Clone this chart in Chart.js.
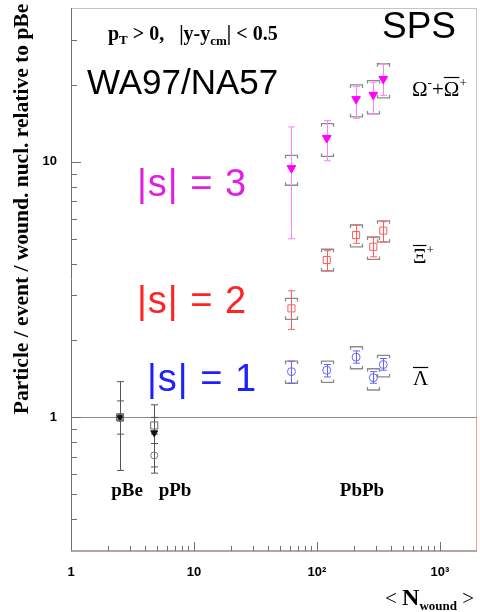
<!DOCTYPE html>
<html>
<head>
<meta charset="utf-8">
<script src="https://cdn.jsdelivr.net/npm/chart.js@4.4.1/dist/chart.umd.min.js"></script>
<style>
    html, body { margin: 0; padding: 0; background: #fff; overflow: hidden; }
    #wrap { width: 480px; height: 612px; position: relative; }
</style>
</head>
<body>
<div id="wrap"><canvas id="chart"></canvas></div>
<script>
// <N_wound> for the PbPb centrality classes
const nWound = [62, 120, 208, 287, 346];

// Omega- + anti-Omega+
const omegaY      = [9.45, 12.4, 17.6, 18.3, 21.1];
const omegaStatLo = [5.0, 10.1, 14.8, 15.4, 18.2];
const omegaStatHi = [13.7, 14.5, 19.7, 20.5, 24.2];
const omegaSysLo  = [8.1, 10.5, 15.0, 15.4, 17.8];
const omegaSysHi  = [10.6, 14.1, 20.0, 20.8, 24.2];

// anti-Xi+
const xiY      = [2.67, 4.13, 5.17, 4.65, 5.38];
const xiStatLo = [2.21, 3.75, 4.80, 4.25, 4.87];
const xiStatHi = [3.13, 4.49, 5.66, 5.05, 5.83];
const xiSysLo  = [2.42, 3.74, 4.65, 4.15, 4.85];
const xiSysHi  = [2.92, 4.55, 5.66, 5.08, 5.88];

// anti-Lambda
const lamY      = [1.51, 1.53, 1.72, 1.43, 1.61];
const lamStatLo = [1.36, 1.44, 1.63, 1.36, 1.53];
const lamStatHi = [1.66, 1.61, 1.82, 1.51, 1.70];
const lamSysLo  = [1.36, 1.37, 1.55, 1.28, 1.44];
const lamSysHi  = [1.66, 1.66, 1.89, 1.55, 1.75];

// pBe and pPb reference points
const refX = [2.5, 4.75];
const refOmegaY  = [1.0, 0.87];
const refOmegaLo = [0.62, 0.605];
const refOmegaHi = [1.38, 1.12];
const refXiY  = [1.0, 0.93];
const refXiLo = [0.86, 0.86];
const refXiHi = [1.16, 1.0];
const refLamY  = [1.0, 0.71];
const refLamLo = [0.97, 0.64];
const refLamHi = [1.03, 0.79];

// axes
const xMin = 1, xMax = 2000;
const yMin = 0.3, yMax = 40;
const xTickValues = [1, 10, 100, 1000];
const xTickLabels = ["1", "10", "10\u00B2", "10\u00B3"];
const yTickValues = [1, 10];
const yTickLabels = ["1", "10"];

const MAGENTA = "#ff00ff";
const MAGENTA_BAR = "#ff80ff";
const RED = "#ff5c5c";
const BLUE = "#6464ff";
const SYS = "#8a8a8a";

function pts(xs, ys) {
    return xs.map((x, i) => ({ x: x, y: ys[i] }));
}

// minor tick positions on a log axis
function logTicks(lo, hi) {
    const out = [];
    for (let d = Math.floor(Math.log10(lo)); d <= Math.ceil(Math.log10(hi)); d++) {
        for (let m = 1; m < 10; m++) {
            const v = m * Math.pow(10, d);
            if (v >= lo && v <= hi) out.push({ v: v, major: m === 1 });
        }
    }
    return out;
}

function drawBars(ctx, xs, hiArr, loArr, colour, xs_, ys_) {
    ctx.strokeStyle = colour;
    ctx.lineWidth = 1;
    for (let i = 0; i < xs.length; i++) {
        const px = Math.round(xs_.getPixelForValue(xs[i])) + 0.5;
        const top = ys_.getPixelForValue(hiArr[i]);
        const bot = ys_.getPixelForValue(loArr[i]);
        ctx.beginPath();
        ctx.moveTo(px, top); ctx.lineTo(px, bot);
        ctx.moveTo(px - 3.5, top); ctx.lineTo(px + 3.5, top);
        ctx.moveTo(px - 3.5, bot); ctx.lineTo(px + 3.5, bot);
        ctx.stroke();
    }
}

function drawBrackets(ctx, xs, hiArr, loArr, xs_, ys_) {
    ctx.strokeStyle = SYS;
    ctx.lineWidth = 1.3;
    for (let i = 0; i < xs.length; i++) {
        const px = Math.round(xs_.getPixelForValue(xs[i])) + 0.5;
        const top = ys_.getPixelForValue(hiArr[i]);
        const bot = ys_.getPixelForValue(loArr[i]);
        ctx.beginPath();
        ctx.moveTo(px - 6, top + 3); ctx.lineTo(px - 6, top); ctx.lineTo(px + 6, top); ctx.lineTo(px + 6, top + 3);
        ctx.moveTo(px - 6, bot - 3); ctx.lineTo(px - 6, bot); ctx.lineTo(px + 6, bot); ctx.lineTo(px + 6, bot - 3);
        ctx.stroke();
    }
}

// draws a run of [text, font, dy] pieces starting at x
function drawRun(ctx, x, y, pieces) {
    for (const p of pieces) {
        ctx.font = p[1];
        ctx.fillText(p[0], x, y + (p[2] || 0));
        x += ctx.measureText(p[0]).width;
    }
    return x;
}

const decor = {
    id: "decor",
    beforeDatasetsDraw(chart) {
        const ctx = chart.ctx;
        const a = chart.chartArea;
        const xs = chart.scales.x, ys = chart.scales.y;
        ctx.save();

        // frame
        ctx.lineWidth = 1;
        ctx.strokeStyle = "#c4c4c4";
        ctx.beginPath();
        ctx.moveTo(a.left, a.top + 0.5); ctx.lineTo(a.right, a.top + 0.5);
        ctx.moveTo(a.right - 0.5, a.top); ctx.lineTo(a.right - 0.5, ys.getPixelForValue(1));
        ctx.stroke();
        ctx.strokeStyle = "#ee9a9a";
        ctx.beginPath();
        ctx.moveTo(a.right - 0.5, ys.getPixelForValue(1)); ctx.lineTo(a.right - 0.5, a.bottom);
        ctx.stroke();
        ctx.strokeStyle = "#707070";
        ctx.beginPath();
        ctx.moveTo(a.left + 0.5, a.top); ctx.lineTo(a.left + 0.5, a.bottom);
        ctx.stroke();
        ctx.strokeStyle = "#a08585";
        ctx.lineWidth = 1.5;
        ctx.beginPath();
        ctx.moveTo(a.left, a.bottom); ctx.lineTo(a.right, a.bottom);
        ctx.stroke();

        // reference line at 1
        const y1 = Math.round(ys.getPixelForValue(1)) + 0.5;
        ctx.strokeStyle = "#8c8c8c";
        ctx.lineWidth = 1;
        ctx.beginPath();
        ctx.moveTo(a.left, y1); ctx.lineTo(a.right, y1);
        ctx.stroke();

        // inner ticks
        ctx.strokeStyle = "#707070";
        ctx.beginPath();
        for (const t of logTicks(xMin, xMax)) {
            const px = Math.round(xs.getPixelForValue(t.v)) + 0.5;
            if (px <= a.left + 1 || px >= a.right - 1) continue;
            ctx.moveTo(px, a.bottom); ctx.lineTo(px, a.bottom - (t.major ? 9 : 5));
        }
        for (const t of logTicks(yMin, yMax)) {
            const py = Math.round(ys.getPixelForValue(t.v)) + 0.5;
            if (py <= a.top + 2 || py >= a.bottom - 1) continue;
            ctx.moveTo(a.left, py); ctx.lineTo(a.left + (t.major ? 10 : 6), py);
        }
        ctx.stroke();

        // systematic brackets
        drawBrackets(ctx, nWound, omegaSysHi, omegaSysLo, xs, ys);
        drawBrackets(ctx, nWound, xiSysHi, xiSysLo, xs, ys);
        drawBrackets(ctx, nWound, lamSysHi, lamSysLo, xs, ys);

        // statistical errors
        drawBars(ctx, nWound, omegaStatHi, omegaStatLo, MAGENTA_BAR, xs, ys);
        drawBars(ctx, nWound, xiStatHi, xiStatLo, RED, xs, ys);
        drawBars(ctx, nWound, lamStatHi, lamStatLo, BLUE, xs, ys);
        drawBars(ctx, refX, refOmegaHi, refOmegaLo, "#555", xs, ys);
        drawBars(ctx, refX, refXiHi, refXiLo, "#555", xs, ys);
        drawBars(ctx, refX, refLamHi, refLamLo, "#555", xs, ys);
        ctx.restore();
    },
    afterDraw(chart) {
        const ctx = chart.ctx;
        ctx.save();
        ctx.fillStyle = "#000";
        ctx.textBaseline = "alphabetic";
        ctx.textAlign = "left";

        const serifB = (s) => "bold " + s + "px 'Liberation Serif', 'DejaVu Serif', serif";
        const serif = (s) => s + "px 'Liberation Serif', 'DejaVu Serif', serif";
        const sans = (s) => s + "px 'Liberation Sans', Arial, sans-serif";

        // kinematic cut
        drawRun(ctx, 108, 40, [
            ["p", serifB(20)], ["T", serifB(13), 4], [" > 0,   |y-y", serifB(20)],
            ["cm", serifB(13), 5], ["| < 0.5", serifB(20)]
        ]);

        ctx.font = sans(37);
        ctx.fillText("SPS", 382, 38);
        ctx.font = sans(35);
        ctx.fillText("WA97/NA57", 87, 94);

        // strangeness labels
        ctx.font = sans(38);
        ctx.letterSpacing = "1px";
        ctx.fillStyle = "#e31ee3";
        ctx.fillText("|s| = 3", 137, 196);
        ctx.fillStyle = "#ff2424";
        ctx.fillText("|s| = 2", 137, 313);
        ctx.fillStyle = "#2020ff";
        ctx.fillText("|s| = 1", 147, 391);
        ctx.letterSpacing = "0px";

        // system labels
        ctx.fillStyle = "#000";
        ctx.font = serifB(19);
        ctx.textAlign = "center";
        ctx.fillText("pBe", 127, 496);
        ctx.fillText("pPb", 175, 496);
        ctx.fillText("PbPb", 362, 496);

        // particle labels
        ctx.textAlign = "left";
        ctx.lineWidth = 1.2;
        ctx.strokeStyle = "#000";
        let x = drawRun(ctx, 412, 96, [["\u03A9", serif(21)], ["-", serif(13), -9], ["+", serif(21)]]);
        ctx.font = serif(21);
        const wOm = ctx.measureText("\u03A9").width;
        drawRun(ctx, x, 96, [["\u03A9", serif(21)], ["+", serif(13), -9]]);
        ctx.beginPath(); ctx.moveTo(x, 77.5); ctx.lineTo(x + wOm, 77.5); ctx.stroke();

        drawRun(ctx, 413, 263, [["\u039E", serif(21)], ["+", serif(13), -9]]);
        ctx.font = serif(21);
        let w = ctx.measureText("\u039E").width;
        ctx.beginPath(); ctx.moveTo(413, 245.5); ctx.lineTo(413 + w, 245.5); ctx.stroke();

        drawRun(ctx, 413, 385, [["\u039B", serif(21)]]);
        w = ctx.measureText("\u039B").width;
        ctx.beginPath(); ctx.moveTo(413, 367.5); ctx.lineTo(413 + w, 367.5); ctx.stroke();

        // x axis title
        drawRun(ctx, 385, 605, [["< ", serif(21)], ["N", serifB(24)], ["wound", serifB(13), 5], [" >", serif(21)]]);

        // y axis title
        ctx.translate(28, 209);
        ctx.rotate(-Math.PI / 2);
        ctx.textAlign = "center";
        ctx.font = serifB(21.5);
        ctx.fillText("Particle / event / wound. nucl. relative to pBe", 0, 0);
        ctx.restore();
    }
};

const ctx = document.getElementById("chart").getContext("2d");
new Chart(ctx, {
    type: "scatter",
    data: {
        datasets: [
            { data: pts(nWound, omegaY), pointStyle: "triangle", rotation: 180, radius: 5,
              backgroundColor: MAGENTA, borderColor: MAGENTA, borderWidth: 1 },
            { data: pts(nWound, xiY), pointStyle: "rect", radius: 5,
              backgroundColor: "rgba(0,0,0,0)", borderColor: RED, borderWidth: 1 },
            { data: pts(nWound, lamY), pointStyle: "circle", radius: 4,
              backgroundColor: "rgba(0,0,0,0)", borderColor: BLUE, borderWidth: 1 },
            { data: pts(refX, refXiY), pointStyle: "rect", radius: 5,
              backgroundColor: "rgba(0,0,0,0)", borderColor: "#666", borderWidth: 1 },
            { data: pts(refX, refLamY), pointStyle: "circle", radius: 3.5,
              backgroundColor: "rgba(0,0,0,0)", borderColor: "#777", borderWidth: 1 },
            { data: pts(refX, refOmegaY), pointStyle: "triangle", rotation: 180, radius: 4,
              backgroundColor: "#111", borderColor: "#111", borderWidth: 1 }
        ]
    },
    options: {
        responsive: true,
        maintainAspectRatio: false,
        animation: false,
        layout: { autoPadding: false, padding: { top: 8, right: 3, left: 0, bottom: 0 } },
        plugins: { legend: { display: false }, tooltip: { enabled: false } },
        scales: {
            x: {
                type: "logarithmic",
                min: xMin, max: xMax,
                grid: { display: false, drawTicks: false },
                border: { display: false },
                afterBuildTicks: (s) => { s.ticks = xTickValues.map(v => ({ value: v })); },
                afterFit: (s) => { s.height = 61; s.paddingLeft = 0; s.paddingRight = 0; },
                ticks: {
                    autoSkip: false, maxRotation: 0, padding: 14, color: "#000",
                    font: { family: "'Liberation Sans', Arial, sans-serif", size: 13, weight: "bold" },
                    callback: (v) => xTickLabels[xTickValues.indexOf(v)]
                }
            },
            y: {
                type: "logarithmic",
                min: yMin, max: yMax,
                grid: { display: false, drawTicks: false },
                border: { display: false },
                afterBuildTicks: (s) => { s.ticks = yTickValues.map(v => ({ value: v })); },
                afterFit: (s) => { s.width = 71; s.paddingTop = 0; s.paddingBottom = 0; },
                ticks: {
                    autoSkip: false, padding: 14, color: "#000",
                    font: { family: "'Liberation Sans', Arial, sans-serif", size: 13, weight: "bold" },
                    callback: (v) => yTickLabels[yTickValues.indexOf(v)]
                }
            }
        }
    },
    plugins: [decor]
});
</script>
</body>
</html>
